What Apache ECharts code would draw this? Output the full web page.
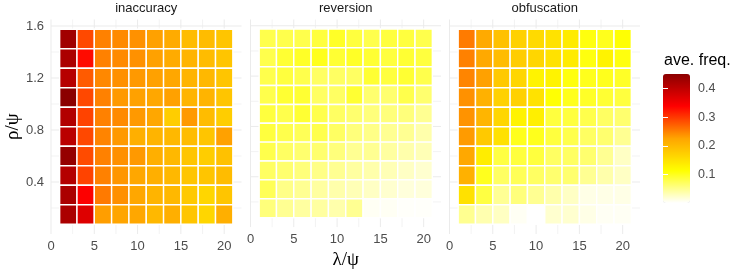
<!DOCTYPE html>
<html>
<head>
<meta charset="utf-8">
<script src="https://cdn.jsdelivr.net/npm/echarts@6/dist/echarts.min.js"></script>
<style>
  html, body { margin: 0; padding: 0; background: #fff; }
  #chart { width: 731px; height: 275px; }
</style>
</head>
<body>
<div id="chart"></div>
<script>
const panelNames = ['inaccuracy', 'reversion', 'obfuscation'];
const lambdaVals = [2, 4, 6, 8, 10, 12, 14, 16, 18, 20];
// rows from rho = 1.5 (top) down to rho = 0.15 (bottom)
const rhoVals = [1.5, 1.35, 1.2, 1.05, 0.9, 0.75, 0.6, 0.45, 0.3, 0.15];

const inaccuracy = [
    [0.429, 0.288, 0.250, 0.244, 0.239, 0.228, 0.218, 0.197, 0.197, 0.186],
    [0.419, 0.330, 0.250, 0.244, 0.239, 0.228, 0.218, 0.207, 0.197, 0.186],
    [0.408, 0.276, 0.245, 0.240, 0.234, 0.228, 0.223, 0.207, 0.202, 0.186],
    [0.450, 0.289, 0.250, 0.234, 0.228, 0.223, 0.228, 0.207, 0.207, 0.186],
    [0.412, 0.292, 0.250, 0.244, 0.234, 0.223, 0.176, 0.234, 0.197, 0.176],
    [0.405, 0.289, 0.248, 0.234, 0.213, 0.207, 0.202, 0.197, 0.186, 0.228],
    [0.440, 0.287, 0.250, 0.240, 0.234, 0.213, 0.202, 0.186, 0.176, 0.191],
    [0.410, 0.292, 0.250, 0.236, 0.223, 0.213, 0.202, 0.186, 0.186, 0.197],
    [0.419, 0.340, 0.255, 0.240, 0.223, 0.207, 0.202, 0.181, 0.165, 0.186],
    [0.419, 0.370, 0.230, 0.225, 0.223, 0.202, 0.213, 0.186, 0.165, 0.213]
];
const reversion = [
    [0.080, 0.080, 0.080, 0.086, 0.096, 0.086, 0.080, 0.086, 0.086, 0.080],
    [0.080, 0.091, 0.096, 0.101, 0.091, 0.096, 0.091, 0.086, 0.091, 0.086],
    [0.080, 0.086, 0.080, 0.070, 0.070, 0.070, 0.091, 0.086, 0.091, 0.080],
    [0.080, 0.091, 0.091, 0.070, 0.070, 0.091, 0.065, 0.065, 0.080, 0.065],
    [0.086, 0.080, 0.091, 0.080, 0.070, 0.065, 0.059, 0.059, 0.059, 0.049],
    [0.086, 0.080, 0.075, 0.080, 0.070, 0.059, 0.054, 0.049, 0.049, 0.038],
    [0.080, 0.070, 0.065, 0.065, 0.059, 0.049, 0.049, 0.043, 0.038, 0.033],
    [0.070, 0.065, 0.059, 0.054, 0.049, 0.043, 0.038, 0.033, 0.027, 0.022],
    [0.075, 0.054, 0.049, 0.043, 0.038, 0.033, 0.027, 0.022, 0.017, 0.017],
    [0.059, 0.049, 0.043, 0.043, 0.038, 0.049, 0.006, 0.006, 0.003, 0.003]
];
const obfuscation = [
    [0.254, 0.219, 0.191, 0.170, 0.160, 0.149, 0.138, 0.107, 0.101, 0.112],
    [0.250, 0.221, 0.197, 0.176, 0.165, 0.149, 0.138, 0.107, 0.128, 0.107],
    [0.247, 0.228, 0.180, 0.165, 0.128, 0.128, 0.107, 0.101, 0.101, 0.096],
    [0.239, 0.211, 0.171, 0.170, 0.149, 0.112, 0.101, 0.096, 0.091, 0.086],
    [0.238, 0.205, 0.165, 0.128, 0.133, 0.086, 0.086, 0.080, 0.070, 0.065],
    [0.232, 0.180, 0.151, 0.101, 0.101, 0.086, 0.080, 0.070, 0.065, 0.049],
    [0.222, 0.136, 0.084, 0.086, 0.086, 0.070, 0.070, 0.065, 0.049, 0.027],
    [0.211, 0.100, 0.070, 0.075, 0.070, 0.065, 0.065, 0.049, 0.038, 0.027],
    [0.151, 0.084, 0.048, 0.059, 0.049, 0.038, 0.027, 0.012, 0.012, 0.012],
    [0.050, 0.036, 0.028, 0.006, 0.001, 0.022, 0.022, 0.012, 0.006, 0.006]
];

const xTicks = [0, 5, 10, 15, 20];
const xMinor = [2.5, 7.5, 12.5, 17.5];
const yTicks = [0.4, 0.8, 1.2, 1.6];
const yMinor = [0.2, 0.6, 1.0, 1.4];
const legendTicks = [0.1, 0.2, 0.3, 0.4];

const palette = ['#ffffff', '#ffff00', '#ffa500', '#ff0000', '#8b0000'];
const font = '"Liberation Sans", Arial, sans-serif';

var panels = [inaccuracy, reversion, obfuscation];
var allVals = [].concat(...panels.map(p => [].concat(...p)));
var vMin = Math.min(...allVals), vMax = Math.max(...allVals);

var halfW = (lambdaVals[1] - lambdaVals[0]) / 2;
var halfH = (rhoVals[0] - rhoVals[1]) / 2;

function tileData(m) {
    var out = [];
    rhoVals.forEach((r, i) => {
        lambdaVals.forEach((l, j) => out.push([l, r, m[i][j]]));
    });
    return out;
}

function gridData() {
    var out = [];
    xTicks.forEach(v => out.push([v, 0, 1]));
    xMinor.forEach(v => out.push([v, 0, 0]));
    yTicks.forEach(v => out.push([v, 1, 1]));
    yMinor.forEach(v => out.push([v, 1, 0]));
    return out;
}

function renderTile(params, api) {
    var x = api.value(0), y = api.value(1);
    var p0 = api.coord([x - halfW, y + halfH]);
    var p1 = api.coord([x + halfW, y - halfH]);
    return {
        type: 'rect',
        shape: { x: p0[0], y: p0[1], width: p1[0] - p0[0], height: p1[1] - p0[1] },
        style: { fill: api.visual('color'), stroke: '#ffffff', lineWidth: 1.4 }
    };
}

// light panel grid, drawn under the tiles
function renderGridLine(params, api) {
    var cs = params.coordSys;
    var v = api.value(0);
    var major = api.value(2) === 1;
    var shape;
    if (api.value(1) === 0) {
        var px = api.coord([v, 1])[0];
        shape = { x1: px, y1: cs.y, x2: px, y2: cs.y + cs.height };
    } else {
        var py = api.coord([1, v])[1];
        shape = { x1: cs.x, y1: py, x2: cs.x + cs.width, y2: py };
    }
    return {
        type: 'line',
        shape: shape,
        style: { stroke: '#ebebeb', lineWidth: major ? 1 : 0.6 }
    };
}

var lefts = [51, 250.5, 449.5];
var gridW = 190.5, gridTop = 19.5, gridH = 214.5;

var grids = lefts.map(l => ({ left: l, top: gridTop, width: gridW, height: gridH }));
grids.push({ left: 663, top: 74, width: 27, height: 129 });

var xAxes = lefts.map((l, i) => ({
    type: 'value', gridIndex: i, min: 0, max: 22,
    axisLine: { show: false }, axisTick: { show: false }, splitLine: { show: false },
    axisLabel: { customValues: xTicks, color: '#4d4d4d', fontSize: 13, fontFamily: font, margin: 6 },
    name: i === 1 ? 'λ/ψ' : '',
    nameLocation: 'middle', nameGap: 20,
    nameTextStyle: { fontSize: 19, color: '#000', fontFamily: '"Liberation Serif", serif' }
}));
xAxes.push({ type: 'value', gridIndex: 3, show: false, min: 0, max: 1 });

var yAxes = lefts.map((l, i) => ({
    type: 'value', gridIndex: i, min: 0, max: 1.65,
    axisLine: { show: false }, axisTick: { show: false }, splitLine: { show: false },
    axisLabel: { show: i === 0, customValues: yTicks, color: '#4d4d4d', fontSize: 13, fontFamily: font, margin: 7 },
    name: i === 0 ? 'ρ/ψ' : '',
    nameLocation: 'middle', nameGap: 28, nameRotate: 90,
    nameTextStyle: { fontSize: 19, color: '#000', fontFamily: '"Liberation Serif", serif' }
}));
yAxes.push({
    type: 'value', gridIndex: 3, min: vMin, max: vMax, position: 'right', z: 10,
    axisLine: { show: false }, splitLine: { show: false },
    axisTick: { show: true, inside: true, length: 5, customValues: legendTicks, lineStyle: { color: '#ffffff', width: 1 } },
    axisLabel: { customValues: legendTicks, color: '#4d4d4d', fontSize: 12.5, fontFamily: font, margin: 8 }
});
yAxes.push({
    type: 'value', gridIndex: 3, min: vMin, max: vMax, position: 'left', z: 10,
    axisLine: { show: false }, splitLine: { show: false },
    axisTick: { show: true, inside: true, length: 5, customValues: legendTicks, lineStyle: { color: '#ffffff', width: 1 } },
    axisLabel: { show: false }
});

var series = [];
panels.forEach((m, i) => {
    series.push({
        type: 'custom', xAxisIndex: i, yAxisIndex: i, z: 1, silent: true,
        renderItem: renderGridLine, data: gridData()
    });
});
panels.forEach((m, i) => {
    series.push({
        name: panelNames[i], type: 'custom', xAxisIndex: i, yAxisIndex: i, z: 2,
        renderItem: renderTile, data: tileData(m),
        encode: { x: 0, y: 1 }
    });
});

var graphics = panelNames.map((n, i) => ({
    type: 'text', x: lefts[i] + gridW / 2, y: 8,
    style: { text: n, fill: '#1a1a1a', font: '13px ' + font, textAlign: 'center', textVerticalAlign: 'middle' }
}));
graphics.push({
    type: 'text', x: 664, y: 61,
    style: { text: 'ave. freq.', fill: '#000', font: '16px ' + font, textAlign: 'left', textVerticalAlign: 'middle' }
});

var chart = echarts.init(document.getElementById('chart'));
var option = {
    animation: false,
    backgroundColor: '#ffffff',
    grid: grids,
    xAxis: xAxes,
    yAxis: yAxes,
    visualMap: {
        type: 'continuous', min: vMin, max: vMax, dimension: 2,
        seriesIndex: [3, 4, 5],
        left: 663, top: 74, itemWidth: 27, itemHeight: 129, padding: 0,
        calculable: false, hoverLink: false, realtime: false,
        inRange: { color: palette }
    },
    graphic: graphics,
    series: series
};
chart.setOption(option);
</script>
</body>
</html>
